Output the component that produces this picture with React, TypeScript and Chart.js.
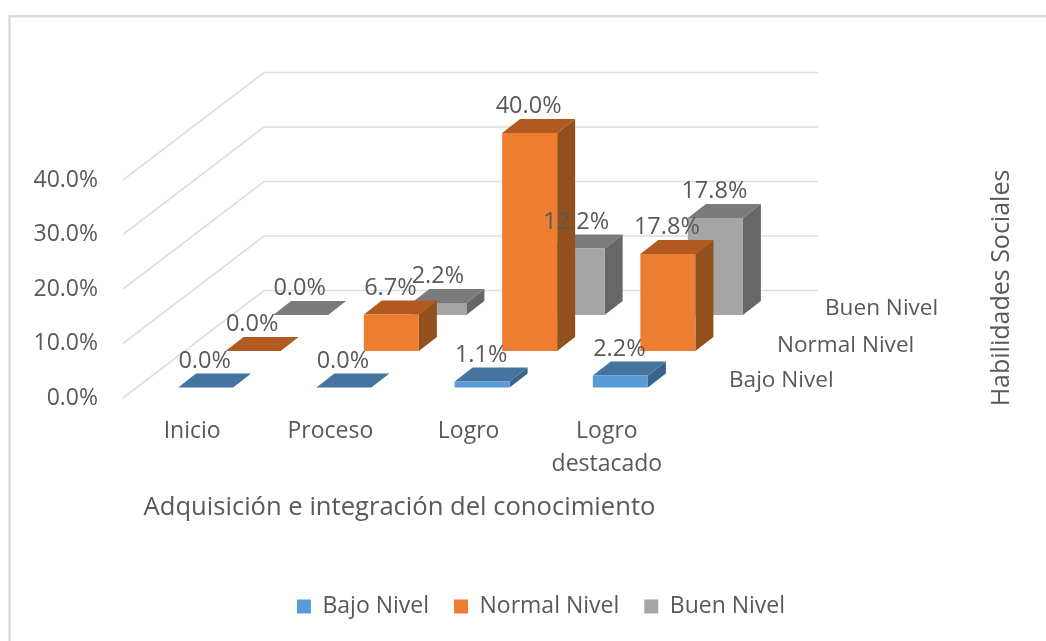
import React, { useEffect, useRef } from "react";
import { Chart, registerables } from "chart.js";

Chart.register(...registerables);

const categories = ["Inicio", "Proceso", "Logro", ["Logro", "destacado"]];
const bajoNivel = [0, 0, 1.1, 2.2];
const normalNivel = [0, 6.7, 40, 17.8];
const buenNivel = [0, 2.2, 12.2, 17.8];
const seriesNames = ["Bajo Nivel", "Normal Nivel", "Buen Nivel"];
const frontColors = ["#5B9BD5", "#ED7D31", "#A5A5A5"];
const topColors = ["#44749F", "#B1591F", "#7B7B7B"];
const sideColors = ["#39648B", "#92501D", "#676767"];
const depthOffsets = [
  { dx: 13.5, dy: -10.5 },
  { dx: 61, dy: -47 },
  { dx: 108.5, dy: -83 },
];
const depthLabelPos = [
  { x: 729, y: 380.5 },
  { x: 777, y: 345.5 },
  { x: 825, y: 309 },
];
const xTitle = "Adquisición e integración del conocimiento";
const zTitle = "Habilidades Sociales";
const FONT = '"Open Sans"';
const TEXT = "#595959";
const BAR_DX = 18;
const BAR_DY = -14;
const WALL_DX = 141;
const WALL_DY = -107.5;
const WALL_RIGHT = 818;
const LEGEND_CENTER = 541;

const fmt = (v: number) => v.toFixed(1) + "%";

const box3d = {
  id: "box3d",
  afterLayout(chart: any) {
    const lg = chart.legend;
    const shift = LEGEND_CENTER - (lg.left + lg.right) / 2;
    lg.left += shift;
    lg.right += shift;
  },
  beforeDraw(chart: any) {
    const { ctx } = chart;
    ctx.save();
    ctx.strokeStyle = "#DBDBDB";
    ctx.lineWidth = 2.5;
    ctx.beginPath();
    ctx.moveTo(9.5, chart.height);
    ctx.lineTo(9.5, 16.2);
    ctx.lineTo(chart.width, 16.2);
    ctx.stroke();
    ctx.restore();
  },
  beforeDatasetsDraw(chart: any) {
    const { ctx, chartArea, scales } = chart;
    ctx.save();
    ctx.strokeStyle = "#DEDEDE";
    ctx.lineWidth = 1.6;
    scales.y.ticks.forEach((t: any) => {
      const y = scales.y.getPixelForValue(t.value);
      ctx.beginPath();
      ctx.moveTo(chartArea.left, y);
      ctx.lineTo(chartArea.left + WALL_DX, y + WALL_DY);
      ctx.lineTo(WALL_RIGHT, y + WALL_DY);
      ctx.stroke();
    });
    ctx.restore();
  },
  beforeDatasetDraw(chart: any, args: any) {
    const { ctx } = chart;
    const i = args.index;
    const off = depthOffsets[i];
    ctx.save();
    ctx.translate(off.dx, off.dy);
    args.meta.data.forEach((el: any) => {
      const { x, y, base, width } = el.getProps(["x", "y", "base", "width"], true);
      const l = x - width / 2;
      const r = x + width / 2;
      ctx.fillStyle = sideColors[i];
      ctx.beginPath();
      ctx.moveTo(r, y);
      ctx.lineTo(r + BAR_DX, y + BAR_DY);
      ctx.lineTo(r + BAR_DX, base + BAR_DY);
      ctx.lineTo(r, base);
      ctx.closePath();
      ctx.fill();
      ctx.fillStyle = topColors[i];
      ctx.beginPath();
      ctx.moveTo(l, y);
      ctx.lineTo(l + BAR_DX, y + BAR_DY);
      ctx.lineTo(r + BAR_DX, y + BAR_DY);
      ctx.lineTo(r, y);
      ctx.closePath();
      ctx.fill();
    });
  },
  afterDatasetDraw(chart: any) {
    chart.ctx.restore();
  },
  afterDatasetsDraw(chart: any) {
    const { ctx } = chart;
    ctx.save();
    ctx.fillStyle = TEXT;
    ctx.font = `23.5px ${FONT}`;
    ctx.textAlign = "center";
    ctx.textBaseline = "middle";
    chart.data.datasets.forEach((ds: any, i: number) => {
      const off = depthOffsets[i];
      chart.getDatasetMeta(i).data.forEach((el: any, k: number) => {
        const { x, y } = el.getProps(["x", "y"], true);
        ctx.fillText(fmt(ds.data[k]), x + off.dx - 1, y + off.dy - 26.5);
      });
    });
    ctx.font = `22.6px ${FONT}`;
    ctx.textAlign = "left";
    seriesNames.forEach((n, i) => {
      ctx.fillText(n, depthLabelPos[i].x, depthLabelPos[i].y);
    });
    ctx.font = `25px ${FONT}`;
    ctx.textAlign = "center";
    ctx.translate(1002, 288);
    ctx.rotate(-Math.PI / 2);
    ctx.fillText(zTitle, 0, 0);
    ctx.restore();
  },
};

export default function App() {
  const ref = useRef<HTMLCanvasElement | null>(null);
  useEffect(() => {
    document.body.style.margin = "0";
    const seriesValues = [bajoNivel, normalNivel, buenNivel];
    const chart = new Chart(ref.current as HTMLCanvasElement, {
      type: "bar",
      data: {
        labels: categories as any,
        datasets: seriesValues.map((data, i) => ({
          label: seriesNames[i],
          data,
          backgroundColor: frontColors[i],
          borderWidth: 0,
          barPercentage: 0.398,
          categoryPercentage: 1,
          grouped: false,
          clip: false as any,
        })),
      },
      options: {
        animation: false,
        responsive: false,
        maintainAspectRatio: false,
        layout: { autoPadding: false, padding: { left: 0, top: 180, right: 370, bottom: 13 } },
        scales: {
          x: {
            grid: { display: false, drawTicks: false },
            border: { display: false },
            ticks: {
              color: TEXT,
              font: { family: FONT, size: 23, lineHeight: 1.43 },
              padding: 17,
              maxRotation: 0,
              minRotation: 0,
              autoSkip: false,
            },
            title: {
              display: true,
              text: xTitle,
              color: TEXT,
              font: { family: FONT, size: 25.6, lineHeight: 1.2 },
              padding: { top: 0, bottom: 47 },
            },
            afterFit(s: any) {
              s.height = 172;
            },
          },
          y: {
            min: 0,
            max: 40,
            grid: { display: false, drawTicks: false },
            border: { display: false },
            ticks: {
              stepSize: 10,
              color: TEXT,
              font: { family: FONT, size: 23 },
              padding: 25,
              callback: (v: any) => fmt(Number(v)),
            },
            afterFit(s: any) {
              s.width = 123;
            },
          },
        },
        plugins: {
          tooltip: { enabled: false },
          legend: {
            position: "bottom",
            labels: {
              color: TEXT,
              font: { family: FONT, size: 23 },
              boxWidth: 14,
              boxHeight: 14,
              padding: 25,
            },
          },
        },
      },
      plugins: [box3d],
    } as any);
    return () => chart.destroy();
  }, []);
  return <canvas ref={ref} width={1046} height={641} style={{ display: "block" }} />;
}
